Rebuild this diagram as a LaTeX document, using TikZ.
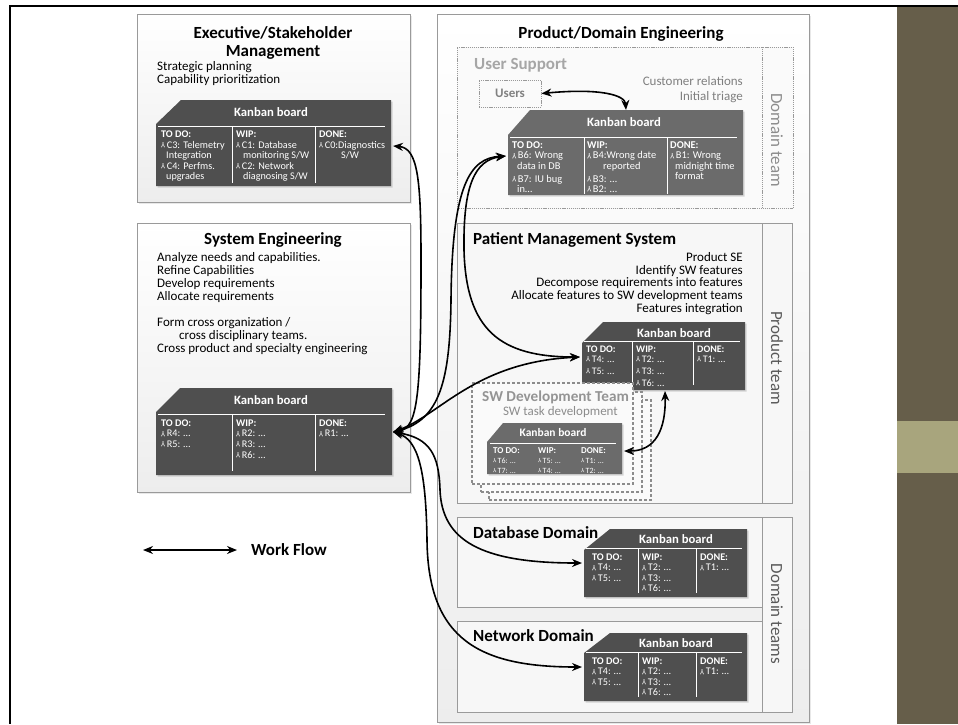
\documentclass[tikz,border=0pt]{standalone}
\usepackage{fontspec}
\setmainfont{Carlito}
\usepackage{graphicx}
\usetikzlibrary{arrows.meta,shadows,fit,calc}

\definecolor{slideolive}{HTML}{665E4A}
\definecolor{slidesand}{HTML}{A8A57D}
\definecolor{boardDark}{HTML}{4F4F4F}
\definecolor{boardMid}{HTML}{6B6B6B}
\definecolor{boxLine}{HTML}{9A9A9A}
\definecolor{faintText}{HTML}{A6A6A6}
\definecolor{softText}{HTML}{7F7F7F}
\definecolor{teamText}{HTML}{595959}

\pgfdeclareradialshading{slideglow}{\pgfpoint{0bp}{0bp}}{%
  color(0bp)=(white); color(40bp)=(white); color(72bp)=(black!15)}

% small pushpin mark in front of each card
\newcommand\pinmark{\raisebox{0.1ex}{\scalebox{0.8}{\rotatebox[origin=c]{180}{Y}}}\,}

% kanban board: name, x1, y1, x2, y2, corner cut x, corner cut y, fill colour
\newcommand\kanbanboard[8]{%
  \node[fit={(#2,#3) (#4,#5)}, inner sep=0pt, outer sep=0pt] (#1) {};
  \fill[#8, boardshadow] ($(#1.north west)+(0,#7)$) -- ($(#1.north west)+(#6,0)$)
    -- (#1.north east) -- (#1.south east) -- (#1.south west) -- cycle;
}

\tikzset{
  boardshadow/.style={drop shadow={opacity=0.3, shadow xshift=1.5pt, shadow yshift=-1.5pt}},
  panel/.style={draw=boxLine, line width=0.9pt, top color=white, bottom color=black!7,
    drop shadow={opacity=0.18, shadow xshift=2pt, shadow yshift=-2pt}},
  plainpanel/.style={draw=boxLine, line width=0.9pt, fill=black!3},
  dotpanel/.style={draw=black!40, line width=0.9pt, dash pattern=on 1.1pt off 0.8pt, fill=black!2},
  dashpanel/.style={draw=black!45, line width=1.5pt, dash pattern=on 3pt off 2pt, fill=black!2},
  bigtitle/.style={font=\fontsize{17}{18.5}\selectfont\bfseries, inner sep=0pt, align=center},
  body/.style={font=\fontsize{13}{13.1}\selectfont, inner sep=0pt},
  boardtitle/.style={font=\fontsize{12.7}{13}\selectfont\bfseries, text=white, inner sep=0pt},
  kcol/.style={anchor=north west, inner sep=0pt, align=left, text=white,
    font=\fontsize{10.2}{10.4}\selectfont},
  sepline/.style={draw=white, line width=0.9pt},
  flow/.style={line width=1.6pt, {Stealth[length=10pt,width=8pt]}-{Stealth[length=10pt,width=8pt]}},
  sidelabel/.style={rotate=-90, font=\fontsize{17}{18}\selectfont, inner sep=0pt},
}

\begin{document}
\begin{tikzpicture}[x=1pt, y=-1pt]
\useasboundingbox (0,0) rectangle (958,724);

% slide background
\fill[white] (0,0) rectangle (958,724);
\fill[shading=slideglow] (11,7) rectangle (897,724);
\fill[slideolive] (897,7) rectangle (958,724);
\fill[slidesand] (897,421) rectangle (958,473);
\draw[line width=2pt] (9,6) -- (958,6);
\draw[line width=2pt] (10,6) -- (10,724);

% ---------------- Executive / Stakeholder Management ----------------
\node[panel, fit={(137,14) (410,202)}, inner sep=0pt] (exec) {};
\node[bigtitle, anchor=north] (execT) at (273,26) {Executive/Stakeholder\\Management};
\node[body, anchor=north west, align=left] (execB) at (157,61) {Strategic planning\\Capability prioritization};
\kanbanboard{exK}{156}{100}{391}{186}{25}{24}{boardDark}
\node[boardtitle] (exKT) at (271,112) {Kanban board};
\draw[sepline] (158,126) -- (385,126);
\draw[sepline] (232,126) -- (232,183);
\draw[sepline] (315,126) -- (315,183);
\node[kcol] (exK1) at (161,130.5) {\textbf{TO DO:}\\[0.5pt]\pinmark C3: Telemetry\\\hspace*{5pt}Integration\\\pinmark C4: Perfms.\\\hspace*{5pt}upgrades};
\node[kcol] (exK2) at (236,130.5) {\textbf{WIP:}\\[0.5pt]\pinmark C1: Database\\\hspace*{7pt}monitoring S/W\\\pinmark C2: Network\\\hspace*{7pt}diagnosing S/W};
\node[kcol] (exK3) at (319,130.5) {\textbf{DONE:}\\[0.5pt]\pinmark C0:Diagnostics\\\hspace*{22pt}S/W};

% ---------------- System Engineering ----------------
\node[panel, fit={(137,223) (410,492)}, inner sep=0pt] (syse) {};
\node[bigtitle, anchor=north] (syseT) at (273,232) {System Engineering};
\node[body, anchor=north west, align=left] (syseB) at (157,252)
  {Analyze needs and capabilities.\\Refine Capabilities\\Develop requirements\\Allocate requirements\\[13.1pt]
   Form cross organization /\\\hspace*{22pt}cross disciplinary teams.\\Cross product and specialty engineering};
\kanbanboard{seK}{156}{388}{392}{475}{24}{24}{boardDark}
\node[boardtitle] (seKT) at (271,400) {Kanban board};
\draw[sepline] (158,414) -- (385,414);
\draw[sepline] (232,414) -- (232,471);
\draw[sepline] (315,414) -- (315,471);
\node[kcol] (seK1) at (161,419.5) {\textbf{TO DO:}\\\pinmark R4: …\\\pinmark R5: …};
\node[kcol] (seK2) at (236,419.5) {\textbf{WIP:}\\\pinmark R2: …\\\pinmark R3: …\\[1pt]\pinmark R6: …};
\node[kcol] (seK3) at (319,419.5) {\textbf{DONE:}\\\pinmark R1: …};

% ---------------- Product / Domain Engineering ----------------
\node[panel, fit={(437,14) (809,722)}, inner sep=0pt] (pde) {};
\node[bigtitle, anchor=north] (pdeT) at (621,26) {Product/Domain Engineering};

% User Support
\node[dotpanel, fit={(457,47) (793,208)}, inner sep=0pt] (usup) {};
\draw[dotpanel, fill=none] (762,47) -- (762,208);
\node[bigtitle, text=faintText, anchor=north west] (usupT) at (474,58) {User Support};
\node[body, text=softText, anchor=north east, align=right, font=\fontsize{13}{14.8}\selectfont] (usupB) at (743,76) {Customer relations\\Initial triage};
\node[dotpanel, minimum width=62pt, minimum height=27pt, inner sep=0pt,
  font=\fontsize{13}{14}\selectfont\bfseries, text=black!50] (users) at (510,93.5) {Users};
\node[sidelabel, text=black!45] (usupS) at (777,140) {Domain team};
\kanbanboard{usK}{508}{110}{743}{195}{22}{25}{boardMid}
\node[boardtitle] (usKT) at (624,122) {Kanban board};
\draw[sepline] (510,137) -- (737,137);
\draw[sepline] (584,137) -- (584,194);
\draw[sepline] (667,137) -- (667,194);
\node[kcol, font=\fontsize{10.4}{10.4}\selectfont] (usK1) at (512,141.5) {\textbf{TO DO:}\\\pinmark B6: Wrong\\\hspace*{5pt}data in DB\\[2.4pt]\pinmark B7: IU bug\\\hspace*{5pt}in…};
\node[kcol, font=\fontsize{10.4}{10.4}\selectfont] (usK2) at (587,141.5) {\textbf{WIP:}\\\pinmark B4:Wrong date\\\hspace*{16pt}reported\\[2.4pt]\pinmark B3: …\\\pinmark B2: …};
\node[kcol, font=\fontsize{10.4}{10.4}\selectfont] (usK3) at (670,141.5) {\textbf{DONE:}\\\pinmark B1: Wrong\\\hspace*{5pt}midnight time\\\hspace*{5pt}format};

% Patient Management System
\node[plainpanel, fit={(457,223) (792,503)}, inner sep=0pt] (pms) {};
\draw[draw=boxLine, line width=0.9pt] (762,223) -- (762,503);
\node[bigtitle, anchor=north west] (pmsT) at (473,232) {Patient Management System};
\node[body, anchor=north east, align=right, font=\fontsize{13}{12.8}\selectfont] (pmsB) at (743,252)
  {Product SE\\Identify SW features\\Decompose requirements into features\\Allocate features to SW development teams\\Features integration};
\node[sidelabel, text=teamText] (pmsS) at (777,358) {Product team};
\kanbanboard{pmsK}{582}{322}{745}{390}{21}{21}{boardDark}
\node[boardtitle] (pmsKT) at (674,333) {Kanban board};
\draw[sepline] (584,341) -- (740,341);
\draw[sepline] (632,341) -- (632,385);
\draw[sepline] (693,341) -- (693,385);
\node[kcol, font=\fontsize{10}{12}\selectfont] (pmsK1) at (586,345.5) {\textbf{TO DO:}\\[-2pt]\pinmark T4: …\\\pinmark T5: …};
\node[kcol, font=\fontsize{10}{12}\selectfont] (pmsK2) at (636,345.5) {\textbf{WIP:}\\[-2pt]\pinmark T2: …\\\pinmark T3: …\\\pinmark T6: …};
\node[kcol, font=\fontsize{10}{12}\selectfont] (pmsK3) at (697,345.5) {\textbf{DONE:}\\[-2pt]\pinmark T1: …};

% SW development teams (stacked)
\node[dashpanel, fit={(489,400) (651,500)}, inner sep=0pt] (sw3) {};
\node[dashpanel, fit={(481,392) (642,492)}, inner sep=0pt] (sw2) {};
\node[dashpanel, fit={(472,383) (633,484)}, inner sep=0pt] (sw1) {};
\node[bigtitle, text=black!42, anchor=north west, font=\fontsize{15.2}{16}\selectfont\bfseries] (swT) at (482,391) {SW Development Team};
\node[body, text=black!45, anchor=north east] (swB) at (618,406) {SW task development};
\kanbanboard{swK}{487}{423}{622}{474}{16}{19}{boardMid}
\node[boardtitle, font=\fontsize{11.5}{12}\selectfont\bfseries] (swKT) at (553,432) {Kanban board};
\draw[sepline] (490,443) -- (616,443);
\node[kcol, font=\fontsize{8}{10}\selectfont] (swK1) at (493,447) {\fontsize{9}{10}\selectfont\textbf{TO DO:}\\\pinmark T6: …\\\pinmark T7: …};
\node[kcol, font=\fontsize{8}{10}\selectfont] (swK2) at (538,447) {\fontsize{9}{10}\selectfont\textbf{WIP:}\\\pinmark T5: …\\\pinmark T4: …};
\node[kcol, font=\fontsize{8}{10}\selectfont] (swK3) at (581,447) {\fontsize{9}{10}\selectfont\textbf{DONE:}\\\pinmark T1: …\\\pinmark T2: …};

% Domain teams
\node[plainpanel, fit={(762,517) (792,712)}, inner sep=0pt] (dteam) {};
\node[sidelabel, text=teamText] (dteamS) at (777,614) {Domain teams};
\node[plainpanel, fit={(457,517) (762,607)}, inner sep=0pt] (dbd) {};
\node[bigtitle, anchor=north west] (dbdT) at (473,526) {Database Domain};
\kanbanboard{dbK}{584}{529}{747}{597}{26}{21}{boardDark}
\node[boardtitle] (dbKT) at (676,539) {Kanban board};
\draw[sepline] (586,548) -- (742,548);
\draw[sepline] (638,548) -- (638,593);
\draw[sepline] (696,548) -- (696,593);
\node[kcol] (dbK1) at (592,553.5) {\textbf{TO DO:}\\\pinmark T4: …\\\pinmark T5: …};
\node[kcol] (dbK2) at (642,553.5) {\textbf{WIP:}\\\pinmark T2: …\\\pinmark T3: …\\\pinmark T6: …};
\node[kcol] (dbK3) at (700,553.5) {\textbf{DONE:}\\\pinmark T1: …};

\node[plainpanel, fit={(457,621) (762,712)}, inner sep=0pt] (nwd) {};
\node[bigtitle, anchor=north west] (nwdT) at (473,629) {Network Domain};
\kanbanboard{nwK}{584}{633}{747}{701}{26}{20}{boardDark}
\node[boardtitle] (nwKT) at (676,643) {Kanban board};
\draw[sepline] (586,652) -- (742,652);
\draw[sepline] (638,652) -- (638,697);
\draw[sepline] (696,652) -- (696,697);
\node[kcol] (nwK1) at (592,657.5) {\textbf{TO DO:}\\\pinmark T4: …\\\pinmark T5: …};
\node[kcol] (nwK2) at (642,657.5) {\textbf{WIP:}\\\pinmark T2: …\\\pinmark T3: …\\\pinmark T6: …};
\node[kcol] (nwK3) at (700,657.5) {\textbf{DONE:}\\\pinmark T1: …};

% ---------------- work flow connectors ----------------
\draw[flow] (users.east) .. controls (600,88) and (625,95) .. ($(usK.north)+(0.5,0)$);
\draw[flow] ($(exK.east)+(2,3)$) .. controls (418,148) and (421,180) .. (421,260)
  .. controls (421,395) and (418,428) .. ($(seK.east)+(1,0.5)$);
\draw[flow] ($(seK.east)+(1,0.5)$) .. controls (440,420) and (450,380) .. (451,300)
  .. controls (452,185) and (470,158) .. ($(usK.west)+(-2,3.5)$);
\draw[flow] ($(usK.west)+(-2,3.5)$) .. controls (475,160) and (463,185) .. (464,250)
  .. controls (466,330) and (500,357) .. ($(pmsK.west)+(-2,1)$);
\draw[flow] ($(seK.east)+(1,0.5)$) .. controls (440,415) and (475,362) .. ($(pmsK.west)+(-2,1)$);
\draw[flow] ($(seK.east)+(1,0.5)$) .. controls (430,438) and (439,455) .. (440,490)
  .. controls (442,540) and (480,563) .. ($(dbK.west)+(-2,0)$);
\draw[flow] ($(seK.east)+(1,0.5)$) .. controls (418,440) and (426,470) .. (427,540)
  .. controls (428,640) and (480,667) .. ($(nwK.west)+(-2,0)$);
\draw[flow] ($(pmsK.south)+(1.5,1)$) .. controls (666,430) and (655,451) .. ($(swK.east)+(2,2.5)$);

% legend
\coordinate (legA) at (143,550);
\coordinate (legB) at (237,550);
\draw[flow] (legA) -- (legB);
\node[bigtitle, anchor=west] (legT) at (251,550) {Work Flow};
\end{tikzpicture}
\end{document}
